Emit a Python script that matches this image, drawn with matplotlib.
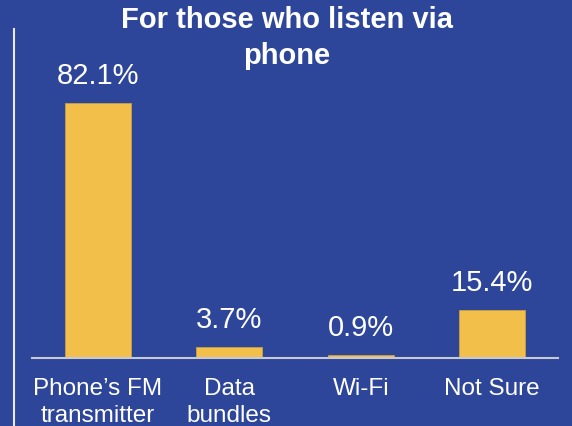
import matplotlib
matplotlib.use("Agg")
import matplotlib.pyplot as plt
from matplotlib.lines import Line2D

categories = ["Phone\u2019s FM\ntransmitter", "Data\nbundles", "Wi-Fi", "Not Sure"]
values = [82.1, 3.7, 0.9, 15.4]
value_labels = ["82.1%", "3.7%", "0.9%", "15.4%"]

bg = "#2E4699"
bar_color = "#F2BF4A"

plt.rcParams["font.family"] = ["Liberation Sans", "DejaVu Sans"]

fig = plt.figure(figsize=(5.72, 4.27), dpi=100)
fig.patch.set_facecolor(bg)
W, H = 572, 427
ax = fig.add_axes([32 / W, 1 - 359 / H, 526 / W, (359 - 30) / H])
ax.set_facecolor(bg)

x = range(len(categories))
ax.bar(x, values, width=0.5, color=bar_color, edgecolor="#C9A040", linewidth=0.6, zorder=2)
ax.set_xlim(-0.5, 3.5)
ax.set_ylim(0, 329 / (255 / 82.1))

for xi, v, lab in zip(x, values, value_labels):
    ax.annotate(lab, (xi, v), xytext=(0, 10), textcoords="offset points",
                ha="center", va="bottom", color="white", fontsize=21)

for s in ["top", "right", "left"]:
    ax.spines[s].set_visible(False)
ax.spines["bottom"].set_color("#C8C8D0")
ax.spines["bottom"].set_linewidth(1.5)
ax.set_yticks([])
ax.set_xticks(list(x))
ax.set_xticklabels(categories, color="white", fontsize=17.5, linespacing=1.25)
ax.tick_params(axis="x", length=0, pad=14)

fig.text(287 / W, 1 - 38 / H, "For those who listen via\nphone", ha="center", va="center",
         color="white", fontsize=21, fontweight="bold", linespacing=1.4)

fig.add_artist(Line2D([14 / W, 14 / W], [0, 1 - 30 / H], transform=fig.transFigure,
                      color="#E8E8F0", linewidth=1.5))

fig.savefig("out.png", dpi=100, facecolor=bg)
